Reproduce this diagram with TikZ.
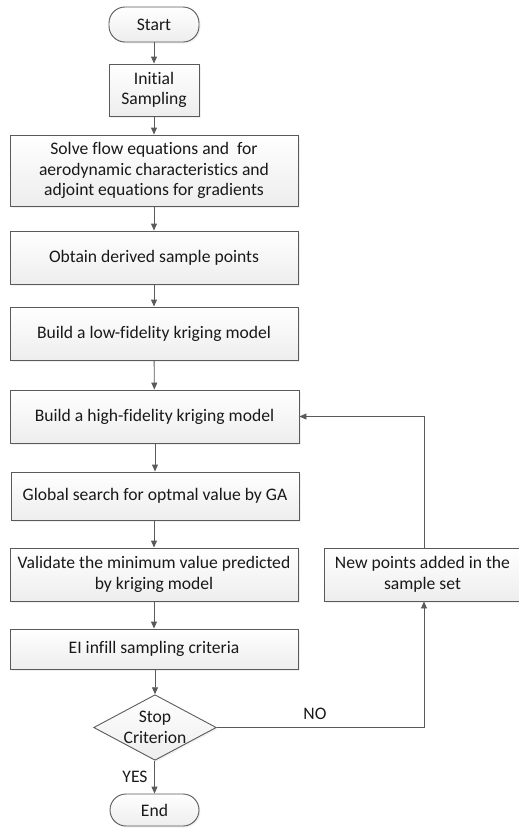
\documentclass[tikz,border=0pt]{standalone}
\usepackage{fontspec}
\setmainfont[Ligatures=NoCommon]{Carlito}
\usetikzlibrary{shapes.geometric,arrows.meta,shadows}
\definecolor{edge}{HTML}{5A5A5A}
\tikzset{
  base/.style={draw=edge, line width=0.9pt, top color=white, bottom color=black!7,
    font=\fontsize{17.6}{20.5}\selectfont, text=black!90, align=center, inner sep=0pt,
    drop shadow={opacity=0.12, shadow xshift=1.5pt, shadow yshift=-1.5pt}},
  proc/.style={base, rectangle},
  term/.style={base, rectangle, rounded corners=16pt},
  decis/.style={base, diamond, aspect=1.87, inner sep=0pt},
  arr/.style={draw=edge, line width=0.9pt, -{Triangle[length=7pt,width=6pt]}},
  lab/.style={font=\fontsize{17.6}{20.5}\selectfont, text=black!90}
}
\begin{document}
\begin{tikzpicture}[x=1pt,y=-1pt]
\useasboundingbox (0,0) rectangle (519,828);
\node[term, minimum width=90pt, minimum height=35pt] (start) at (154,24.5) {Start};
\node[proc, minimum width=90pt, minimum height=52pt] (init) at (154,90) {Initial\\Sampling};
\node[proc, minimum width=288pt, minimum height=71pt] (solve) at (154,170.5) {Solve flow equations and\ \ for\\aerodynamic characteristics and\\adjoint equations for gradients};
\node[proc, minimum width=288pt, minimum height=53pt] (obtain) at (154,257.5) {Obtain derived sample points};
\node[proc, minimum width=288pt, minimum height=53pt] (low) at (154,333.5) {Build a low-fidelity kriging model};
\node[proc, minimum width=289pt, minimum height=53pt] (high) at (154.5,416.5) {Build a high-fidelity kriging model};
\node[proc, minimum width=288pt, minimum height=48pt] (glob) at (155,496) {Global search for optmal value by GA};
\node[proc, minimum width=288pt, minimum height=53pt] (valid) at (154,574.5) {Validate the minimum value predicted\\by kriging model};
\node[proc, minimum width=197pt, minimum height=53pt] (newp) at (422.5,574.5) {New points added in the\\sample set};
\node[proc, minimum width=288pt, minimum height=40pt] (ei) at (154,649) {EI infill sampling criteria};
\node[decis, minimum width=118pt, minimum height=63pt] (dec) at (155,727.5) {Stop\\Criterion};
\node[term, minimum width=89pt, minimum height=32pt] (fin) at (154.5,810) {End};
\coordinate (nx) at (424,0);
\draw[arr] (start) -- (init);
\draw[arr] (init) -- (solve);
\draw[arr] (solve) -- (obtain);
\draw[arr] (obtain) -- (low);
\draw[arr] (low) -- (high);
\draw[arr] (high.south -| glob.north) -- (glob);
\draw[arr] (glob.south -| valid.north) -- (valid);
\draw[arr] (valid) -- (ei);
\draw[arr] (ei.south -| dec.north) -- (dec);
\draw[arr] (dec.south -| fin.north) -- (fin);
\draw[arr] (newp.north -| nx) |- (high.east);
\draw[arr] (dec.east) -| (newp.south -| nx);
\node[lab] (no) at (315,714) {NO};
\node[lab] (yes) at (135,777) {YES};
\end{tikzpicture}
\end{document}
